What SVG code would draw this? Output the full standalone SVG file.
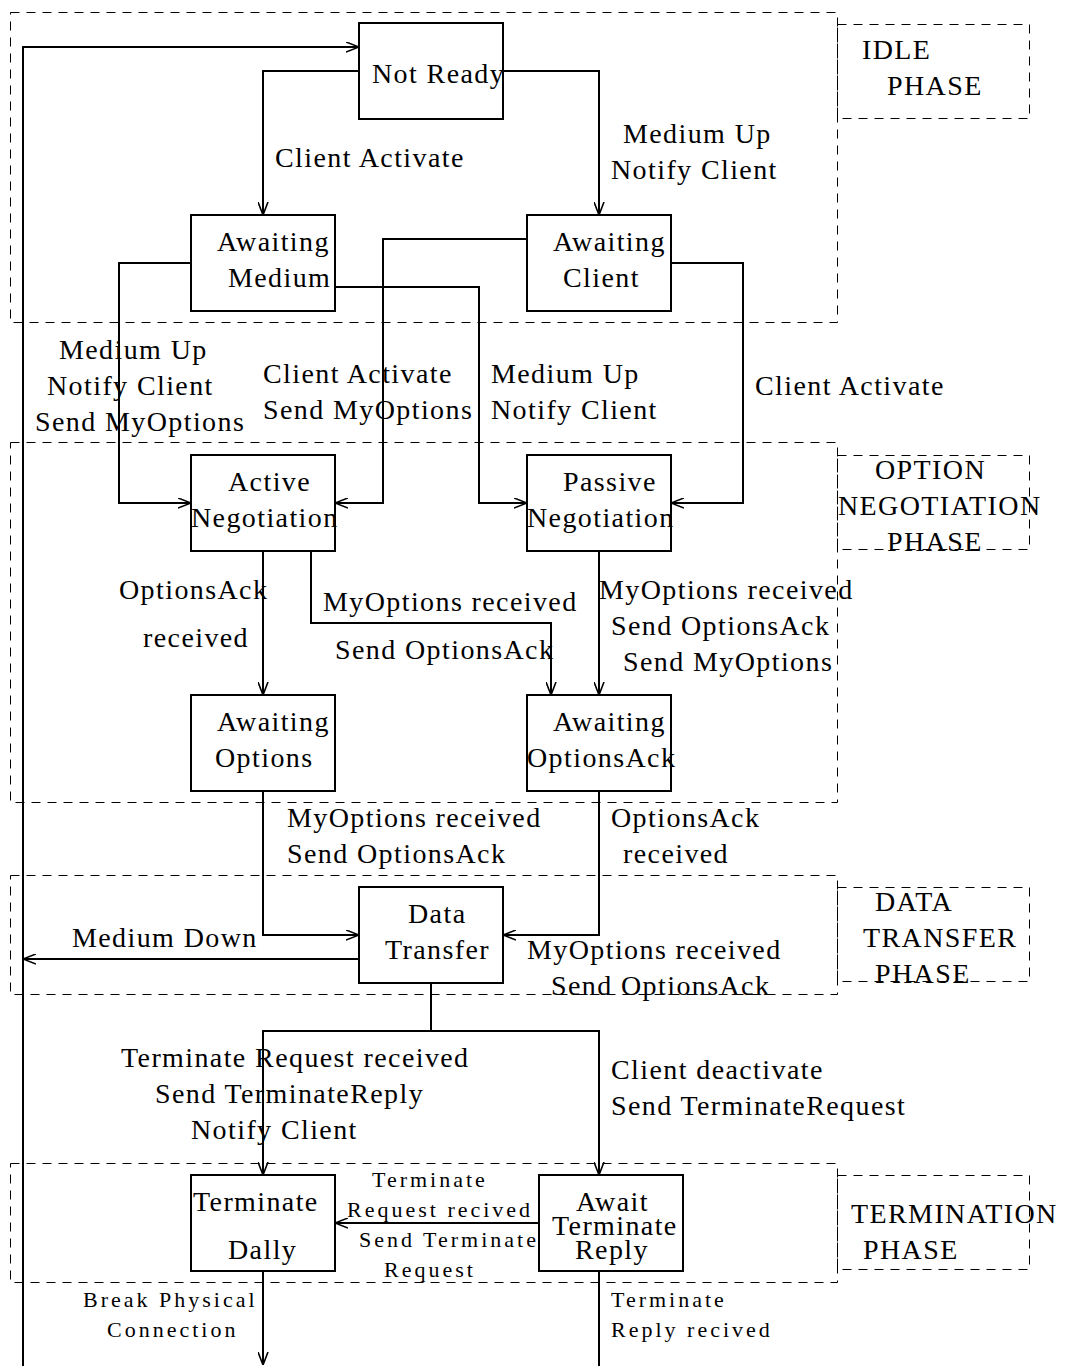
<svg xmlns="http://www.w3.org/2000/svg" width="1068" height="1366" viewBox="0 0 1068 1366">
  <style>
    text { font-family: "Liberation Serif", "Times New Roman", serif; fill: #000; }
    .t { font-size: 28px; letter-spacing: 1.4px; }
    .s { font-size: 22px; letter-spacing: 3px; }
    .state { fill: #fff; stroke: #000; stroke-width: 2; }
    .phase { fill: none; stroke: #000; stroke-width: 1; stroke-dasharray: 9 7; }
    .edge { fill: none; stroke: #000; stroke-width: 2; }
  </style>
  <defs>
    <marker id="arrow" viewBox="0 0 13 11" refX="13" refY="5.5" markerWidth="13" markerHeight="11" markerUnits="userSpaceOnUse" orient="auto">
      <path d="M0,0.5 L13,5.5 L0,10.5" fill="none" stroke="#000" stroke-width="1.6"/>
    </marker>
  </defs>
  <rect width="1068" height="1366" fill="#fff"/>

  <!-- Phase frames and their labels -->
  <g id="phases">
    <g id="phase-idle">
      <rect class="phase" x="10.5" y="12.5" width="827" height="310"/>
      <rect class="phase" x="837.5" y="24.5" width="192" height="94"/>
      <text class="t" x="862" y="59">IDLE</text>
      <text class="t" x="887" y="95">PHASE</text>
    </g>
    <g id="phase-option">
      <rect class="phase" x="10.5" y="442.5" width="827" height="360"/>
      <rect class="phase" x="837.5" y="455.5" width="192" height="94"/>
      <text class="t" x="875" y="479">OPTION</text>
      <text class="t" x="838" y="515">NEGOTIATION</text>
      <text class="t" x="887" y="551">PHASE</text>
    </g>
    <g id="phase-data">
      <rect class="phase" x="10.5" y="875.5" width="827" height="119"/>
      <rect class="phase" x="837.5" y="887.5" width="192" height="94"/>
      <text class="t" x="875" y="911">DATA</text>
      <text class="t" x="863" y="947">TRANSFER</text>
      <text class="t" x="875" y="983">PHASE</text>
    </g>
    <g id="phase-termination">
      <rect class="phase" x="10.5" y="1163.5" width="827" height="119"/>
      <rect class="phase" x="837.5" y="1175.5" width="192" height="94"/>
      <text class="t" x="851" y="1223">TERMINATION</text>
      <text class="t" x="863" y="1259">PHASE</text>
    </g>
  </g>

  <!-- Transitions -->
  <g id="connectors">
    <path class="edge" d="M23,1366 V47 H359" marker-end="url(#arrow)"/>
    <path class="edge" d="M359,71 H263 V215" marker-end="url(#arrow)"/>
    <path class="edge" d="M503,71 H599 V215" marker-end="url(#arrow)"/>
    <path class="edge" d="M191,263 H119 V503 H191" marker-end="url(#arrow)"/>
    <path class="edge" d="M527,239 H383 V503 H335" marker-end="url(#arrow)"/>
    <path class="edge" d="M335,287 H479 V503 H527" marker-end="url(#arrow)"/>
    <path class="edge" d="M671,263 H743 V503 H671" marker-end="url(#arrow)"/>
    <path class="edge" d="M263,551 V695" marker-end="url(#arrow)"/>
    <path class="edge" d="M311,551 V623 H551 V695" marker-end="url(#arrow)"/>
    <path class="edge" d="M599,551 V695" marker-end="url(#arrow)"/>
    <path class="edge" d="M263,791 V935 H359" marker-end="url(#arrow)"/>
    <path class="edge" d="M599,791 V935 H503" marker-end="url(#arrow)"/>
    <path class="edge" d="M359,959 H23" marker-end="url(#arrow)"/>
    <path class="edge" d="M431,983 V1031 H263 V1175" marker-end="url(#arrow)"/>
    <path class="edge" d="M431,1031 H599 V1175" marker-end="url(#arrow)"/>
    <path class="edge" d="M539,1223 H335" marker-end="url(#arrow)"/>
    <path class="edge" d="M263,1271 V1365" marker-end="url(#arrow)"/>
    <path class="edge" d="M599,1271 V1366"/>

    <!-- transition labels -->
    <text class="t" x="275" y="167">Client Activate</text>
    <text class="t" x="623" y="143">Medium Up</text>
    <text class="t" x="611" y="179">Notify Client</text>
    <text class="t" x="59" y="359">Medium Up</text>
    <text class="t" x="47" y="395">Notify Client</text>
    <text class="t" x="35" y="431">Send MyOptions</text>
    <text class="t" x="263" y="383">Client Activate</text>
    <text class="t" x="263" y="419">Send MyOptions</text>
    <text class="t" x="491" y="383">Medium Up</text>
    <text class="t" x="491" y="419">Notify Client</text>
    <text class="t" x="755" y="395">Client Activate</text>
    <text class="t" x="119" y="599">OptionsAck</text>
    <text class="t" x="143" y="647">received</text>
    <text class="t" x="323" y="611">MyOptions received</text>
    <text class="t" x="335" y="659">Send OptionsAck</text>
    <text class="t" x="599" y="599">MyOptions received</text>
    <text class="t" x="611" y="635">Send OptionsAck</text>
    <text class="t" x="623" y="671">Send MyOptions</text>
    <text class="t" x="287" y="827">MyOptions received</text>
    <text class="t" x="287" y="863">Send OptionsAck</text>
    <text class="t" x="611" y="827">OptionsAck</text>
    <text class="t" x="623" y="863">received</text>
    <text class="t" x="72" y="947">Medium Down</text>
    <text class="t" x="527" y="959">MyOptions received</text>
    <text class="t" x="551" y="995">Send OptionsAck</text>
    <text class="t" x="121" y="1067">Terminate Request received</text>
    <text class="t" x="155" y="1103">Send TerminateReply</text>
    <text class="t" x="191" y="1139">Notify Client</text>
    <text class="t" x="611" y="1079">Client deactivate</text>
    <text class="t" x="611" y="1115">Send TerminateRequest</text>
    <text class="s" x="372" y="1187">Terminate</text>
    <text class="s" x="347" y="1217">Request recived</text>
    <text class="s" x="359" y="1247">Send Terminate</text>
    <text class="s" x="384" y="1277">Request</text>
    <text class="s" x="83" y="1307">Break Physical</text>
    <text class="s" x="107" y="1337">Connection</text>
    <text class="s" x="611" y="1307">Terminate</text>
    <text class="s" x="611" y="1337">Reply recived</text>
  </g>

  <!-- States -->
  <g id="not-ready">
    <rect class="state" x="359" y="23" width="144" height="96"/>
    <text class="t" x="372" y="83">Not Ready</text>
  </g>
  <g id="awaiting-medium">
    <rect class="state" x="191" y="215" width="144" height="96"/>
    <text class="t" x="217" y="251">Awaiting</text>
    <text class="t" x="228" y="287">Medium</text>
  </g>
  <g id="awaiting-client">
    <rect class="state" x="527" y="215" width="144" height="96"/>
    <text class="t" x="553" y="251">Awaiting</text>
    <text class="t" x="563" y="287">Client</text>
  </g>
  <g id="active-negotiation">
    <rect class="state" x="191" y="455" width="144" height="96"/>
    <text class="t" x="228" y="491">Active</text>
    <text class="t" x="191" y="527">Negotiation</text>
  </g>
  <g id="passive-negotiation">
    <rect class="state" x="527" y="455" width="144" height="96"/>
    <text class="t" x="563" y="491">Passive</text>
    <text class="t" x="527" y="527">Negotiation</text>
  </g>
  <g id="awaiting-options">
    <rect class="state" x="191" y="695" width="144" height="96"/>
    <text class="t" x="217" y="731">Awaiting</text>
    <text class="t" x="215" y="767">Options</text>
  </g>
  <g id="awaiting-optionsack">
    <rect class="state" x="527" y="695" width="144" height="96"/>
    <text class="t" x="553" y="731">Awaiting</text>
    <text class="t" x="527" y="767">OptionsAck</text>
  </g>
  <g id="data-transfer">
    <rect class="state" x="359" y="887" width="144" height="96"/>
    <text class="t" x="408" y="923">Data</text>
    <text class="t" x="385" y="959">Transfer</text>
  </g>
  <g id="terminate-dally">
    <rect class="state" x="191" y="1175" width="144" height="96"/>
    <text class="t" x="193" y="1211">Terminate</text>
    <text class="t" x="228" y="1259">Dally</text>
  </g>
  <g id="await-terminate-reply">
    <rect class="state" x="539" y="1175" width="144" height="96"/>
    <text class="t" x="576" y="1211">Await</text>
    <text class="t" x="552" y="1235">Terminate</text>
    <text class="t" x="575" y="1259">Reply</text>
  </g>
</svg>
